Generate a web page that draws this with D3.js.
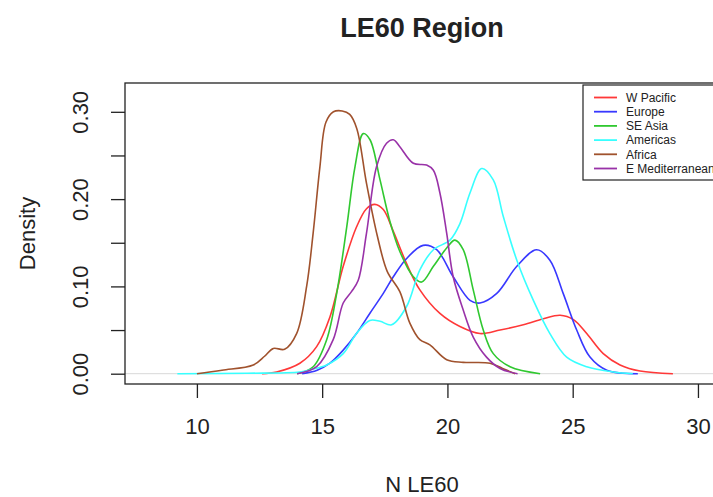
<!DOCTYPE html>
<html>
<head>
<meta charset="utf-8">
<script src="https://cdn.jsdelivr.net/npm/d3@7"></script>
<style>
  body { margin: 0; background: #fff; }
  text { font-family: "Liberation Sans", Arial, sans-serif; fill: #222; }
</style>
</head>
<body>
<div id="chart"></div>
<script>
// Density curves: [N LE60, density]
const wPacific = [[12.6,0],[13.18,0.002],[14.11,0.012],[14.78,0.031],[15.31,0.065],[15.84,0.123],[16.37,0.168],[16.77,0.189],[17.1,0.194],[17.44,0.188],[17.84,0.163],[18.37,0.126],[18.9,0.096],[19.7,0.069],[20.5,0.054],[21.3,0.046],[22.1,0.05],[23.03,0.056],[23.83,0.063],[24.5,0.067],[25.03,0.062],[25.56,0.046],[26.22,0.023],[26.89,0.01],[27.69,0.003],[29.0,0]];
const europe = [[14.2,0],[14.8,0.004],[15.31,0.012],[15.84,0.027],[16.37,0.046],[16.9,0.069],[17.44,0.092],[17.84,0.111],[18.37,0.132],[19.03,0.147],[19.57,0.142],[20.23,0.111],[20.9,0.084],[21.3,0.081],[21.97,0.092],[22.77,0.123],[23.56,0.142],[24.09,0.13],[24.62,0.092],[25.16,0.05],[25.69,0.019],[26.36,0.004],[27.6,0]];
const seAsia = [[14.0,0],[14.64,0.008],[15.18,0.039],[15.58,0.092],[15.98,0.168],[16.31,0.237],[16.64,0.275],[16.91,0.268],[17.31,0.222],[17.7,0.175],[18.1,0.14],[18.64,0.111],[18.97,0.105],[19.44,0.123],[19.97,0.144],[20.3,0.153],[20.63,0.142],[21.03,0.096],[21.43,0.05],[21.83,0.023],[22.5,0.008],[23.7,0]];
const americas = [[9.22,0],[12,0.0005],[14.1,0.002],[14.6,0.005],[15.18,0.01],[15.84,0.023],[16.37,0.046],[16.9,0.061],[17.31,0.06],[17.77,0.056],[18.37,0.077],[18.9,0.119],[19.44,0.142],[20.1,0.153],[20.5,0.172],[20.9,0.207],[21.37,0.235],[21.83,0.222],[22.23,0.18],[22.77,0.13],[23.43,0.084],[24.09,0.046],[24.76,0.019],[25.56,0.008],[26.62,0.002],[27.4,0]];
const africa = [[10.0,0],[11,0.004],[12.25,0.01],[12.7,0.02],[13.05,0.029],[13.5,0.028],[13.98,0.046],[14.38,0.1],[14.64,0.161],[14.91,0.237],[15.15,0.288],[15.45,0.3],[15.8,0.301],[16.1,0.297],[16.38,0.281],[16.77,0.218],[17.2,0.158],[17.6,0.117],[18.1,0.094],[18.5,0.058],[18.9,0.039],[19.3,0.033],[19.97,0.016],[20.63,0.013],[21.7,0.012],[22.2,0.006],[22.7,0]];
const eMed = [[14.0,0],[14.78,0.008],[15.44,0.039],[15.84,0.081],[16.17,0.094],[16.44,0.107],[16.77,0.161],[17.17,0.237],[17.57,0.264],[17.84,0.268],[18.1,0.26],[18.64,0.241],[19.17,0.239],[19.44,0.233],[19.7,0.207],[19.97,0.161],[20.23,0.111],[20.63,0.073],[21.03,0.042],[21.56,0.019],[22.1,0.006],[22.8,0]];

const regionNames = ["W Pacific", "Europe", "SE Asia", "Americas", "Africa", "E Mediterranean"];
const regionColors = ["#ff3838", "#3838ff", "#30c830", "#38ffff", "#a0522d", "#9932a8"];
const regionData = [wPacific, europe, seAsia, americas, africa, eMed];

const xTicks = [10, 15, 20, 25, 30];
const yTicks = [0, 0.05, 0.10, 0.15, 0.20, 0.25, 0.30];
const yLabelled = [0, 0.10, 0.20, 0.30];

const svgWidth = 713;
const svgHeight = 497;

// plot box, the right side runs off the picture
const box = { left: 125, top: 83, right: 719, bottom: 384 };

const svg = d3.select("#chart")
  .append("svg")
  .attr("width", svgWidth)
  .attr("height", svgHeight);

const x = d3.scaleLinear()
  .domain([7.13, 30.84])
  .range([box.left, box.right]);

const y = d3.scaleLinear()
  .domain([-0.0118, 0.333])
  .range([box.bottom, box.top]);

// zero line
svg.append("line")
  .attr("x1", box.left).attr("x2", box.right)
  .attr("y1", y(0)).attr("y2", y(0))
  .attr("stroke", "#d8d8d8")
  .attr("stroke-width", 1);

// curves
const line = d3.line()
  .x(d => x(d[0]))
  .y(d => y(Math.max(0, d[1])))
  .curve(d3.curveCatmullRom.alpha(0.5));

svg.append("g")
  .selectAll("path")
  .data(regionData)
  .enter()
  .append("path")
  .attr("d", line)
  .attr("fill", "none")
  .attr("stroke", (d, i) => regionColors[i])
  .attr("stroke-width", 1.6);

// plot box
svg.append("rect")
  .attr("x", box.left)
  .attr("y", box.top)
  .attr("width", box.right - box.left)
  .attr("height", box.bottom - box.top)
  .attr("fill", "none")
  .attr("stroke", "#222")
  .attr("stroke-width", 1.3);

// x axis
const xAxis = svg.append("g")
  .attr("transform", `translate(0, ${box.bottom})`)
  .call(d3.axisBottom(x).tickValues(xTicks).tickSize(14).tickPadding(20).tickFormat(d3.format("d")));
xAxis.select(".domain").remove();
xAxis.selectAll("line").attr("stroke", "#222").attr("stroke-width", 1.3);
xAxis.selectAll("text").attr("font-size", 22).attr("font-family", null).attr("fill", "#222");

// y axis, only every other tick gets a label
const yAxis = svg.append("g")
  .attr("transform", `translate(${box.left}, 0)`)
  .call(d3.axisLeft(y).tickValues(yTicks).tickSize(14)
    .tickFormat(d => yLabelled.some(v => Math.abs(v - d) < 1e-9) ? d3.format(".2f")(d) : ""));
yAxis.select(".domain").remove();
yAxis.selectAll("line").attr("stroke", "#222").attr("stroke-width", 1.3);
yAxis.selectAll("text")
  .attr("font-size", 22)
  .attr("font-family", null)
  .attr("fill", "#222")
  .attr("text-anchor", "middle")
  .attr("dy", 0)
  .attr("x", 0)
  .attr("transform", "translate(-37, 0) rotate(-90)");

// title and axis labels
svg.append("text")
  .attr("x", (box.left + box.right) / 2)
  .attr("y", 37)
  .attr("text-anchor", "middle")
  .attr("font-size", 27)
  .attr("font-weight", "bold")
  .attr("fill", "#000")
  .text("LE60 Region");

svg.append("text")
  .attr("x", (box.left + box.right) / 2)
  .attr("y", 492)
  .attr("text-anchor", "middle")
  .attr("font-size", 22)
  .text("N LE60");

svg.append("text")
  .attr("transform", `translate(35, ${(box.top + box.bottom) / 2}) rotate(-90)`)
  .attr("text-anchor", "middle")
  .attr("font-size", 22)
  .text("Density");

// legend
const legend = svg.append("g");

legend.append("rect")
  .attr("x", 583)
  .attr("y", 85)
  .attr("width", 140)
  .attr("height", 95)
  .attr("fill", "#fff")
  .attr("stroke", "#222")
  .attr("stroke-width", 1.2);

const items = legend.selectAll("g.item")
  .data(regionNames)
  .enter()
  .append("g")
  .attr("transform", (d, i) => `translate(0, ${97.5 + i * 14.2})`);

items.append("line")
  .attr("x1", 594).attr("x2", 617)
  .attr("stroke", (d, i) => regionColors[i])
  .attr("stroke-width", 1.8);

items.append("text")
  .attr("x", 626)
  .attr("dy", "0.35em")
  .attr("font-size", 12)
  .text(d => d);
</script>
</body>
</html>
